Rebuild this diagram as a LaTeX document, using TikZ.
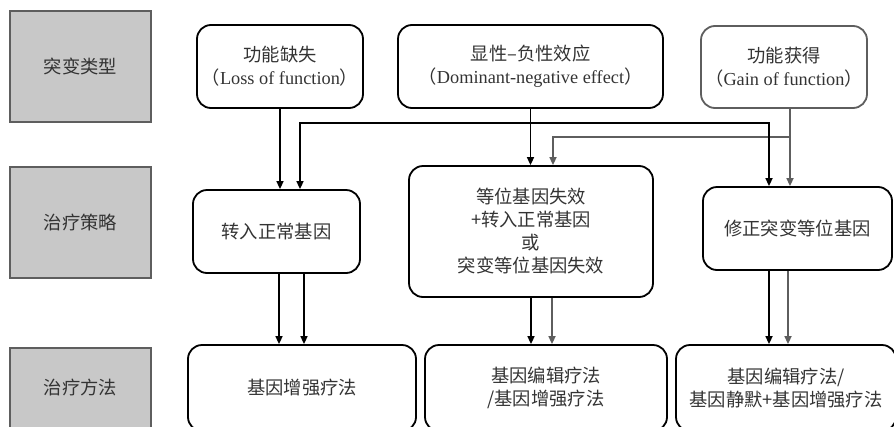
\documentclass[tikz,border=0pt]{standalone}
\usepackage{fontspec}
\setmainfont{Liberation Serif}
\newfontfamily\cjk{Noto Sans CJK SC}
\usetikzlibrary{arrows.meta}
\definecolor{txtgray}{HTML}{333333}
\definecolor{boxgray}{HTML}{C8C8C8}
\definecolor{linegray}{HTML}{5E5E5E}

\begin{document}
\begin{tikzpicture}[
    x=1pt, y=-1pt,
    base/.style = {rectangle, rounded corners=14pt, draw=black, line width=1.8pt,
      inner sep=0pt, align=center, text=txtgray},
    level/.style = {rectangle, draw=linegray, line width=1.2pt, fill=boxgray,
      minimum width=141pt, minimum height=111pt, inner sep=0pt, text=txtgray},
    arr/.style = {line width=1.6pt, -{Triangle[length=8pt,width=7pt]}},
    grayarr/.style = {arr, draw=linegray},
    every node/.style={font=\cjk\fontsize{18.3}{23}\selectfont}
]
  \useasboundingbox (0,0) rectangle (894,426);
  \clip (0,0) rectangle (894,426);

  \node (type)  [level] at (80.5,66.5) {突变类型};
  \node (strat) [level] at (80.5,222.5) {治疗策略};
  \node (meth)  [level, minimum height=80pt] at (80.5,388) {治疗方法};

  \node (lof) [base, minimum width=166pt, minimum height=83pt] at (280,66.5) {功能缺失\\（{\rmfamily Loss of function}）};
  \node (dn)  [base, minimum width=265pt, minimum height=83pt] at (530.5,66.5) {显性–负性效应\\（{\rmfamily Dominant-negative effect}）};
  \node (gof) [base, draw=linegray, minimum width=166pt, minimum height=82pt] at (784,67) {功能获得\\（{\rmfamily Gain of function}）};

  \node (addgene) [base, minimum width=167pt, minimum height=83pt] at (276.5,231.5) {转入正常基因};
  \node (dnstrat) [base, minimum width=244pt, minimum height=131pt] at (531,231.5) {等位基因失效\\+转入正常基因\\或\\突变等位基因失效};
  \node (fix)     [base, minimum width=189pt, minimum height=83pt] at (797.5,228.5) {修正突变等位基因};

  \node (aug)     [base, minimum width=228pt, minimum height=86pt] at (302,388) {基因增强疗法};
  \node (edit)    [base, minimum width=242pt, minimum height=86pt] at (546,388) {基因编辑疗法\\/基因增强疗法};
  \node (silence) [base, minimum width=220pt, minimum height=86pt] at (786,388) {基因编辑疗法/\\基因静默+基因增强疗法};

  \coordinate (dnjoin)  at ([yshift=-14pt]dn.south);
  \coordinate (gofjoin) at ([xshift=6pt, yshift=-28pt]gof.south);

  \draw[grayarr] ([xshift=6pt]gof.south) -- ([xshift=-7.5pt]fix.north);
  \draw[grayarr] (gofjoin) -| ([xshift=22pt]dnstrat.north);
  \draw[grayarr] ([xshift=21pt]dnstrat.south) -- ([xshift=6pt]edit.north);
  \draw[grayarr] ([xshift=-9.5pt]fix.south) -- ([xshift=2pt]silence.north);

  \draw[arr] (lof.south) -- (lof.south |- addgene.north);
  \draw[arr] (dn.south) -- (dn.south |- dnstrat.north);
  \draw[arr] (dnjoin) -| ([xshift=23.5pt]addgene.north);
  \draw[arr] (dnjoin) -| ([xshift=-28.5pt]fix.north);
  \draw[arr] ([xshift=2.5pt]addgene.south) -- ([xshift=-23pt]aug.north);
  \draw[arr] ([xshift=27.5pt]addgene.south) -- ([xshift=2pt]aug.north);
  \draw[arr] (dnstrat.south) -- ([xshift=-15pt]edit.north);
  \draw[arr] ([xshift=-28.5pt]fix.south) -- ([xshift=-17pt]silence.north);

\end{tikzpicture}
\end{document}
